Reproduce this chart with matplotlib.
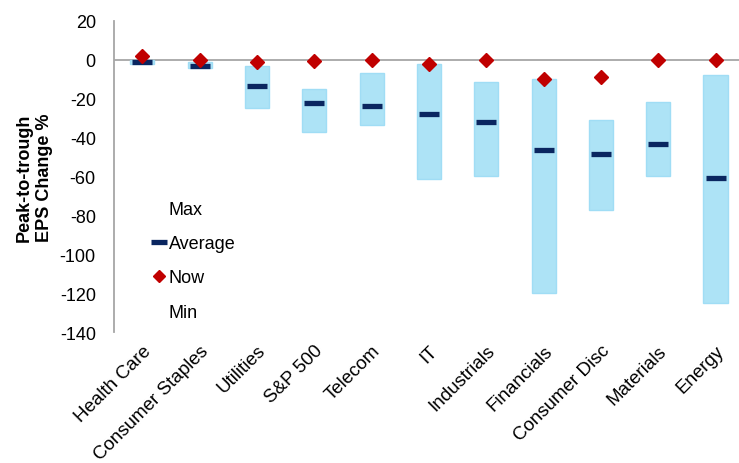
import numpy as np
import matplotlib.pyplot as plt

plt.rcParams['font.family'] = ['Liberation Sans', 'DejaVu Sans']
plt.rcParams['axes.unicode_minus'] = False

# Data
sectors = ['Health Care', 'Consumer Staples', 'Utilities', 'S&P 500', 'Telecom', 'IT',
           'Industrials', 'Financials', 'Consumer Disc', 'Materials', 'Energy']
max_vals = [0, -1, -3, -15, -7, -2, -11.5, -10, -31, -21.5, -8]
min_vals = [-2, -4, -25, -37, -33.5, -61.5, -60, -120, -77, -59.5, -125]
avg_vals = [-1, -3, -13.5, -22, -24, -28, -32, -46.5, -48.5, -43.5, -61]
now_vals = [2, 0, -1, -0.5, 0, -2, 0, -10, -9, 0, 0]

x = np.arange(len(sectors))
max_arr = np.array(max_vals)
min_arr = np.array(min_vals)

fig = plt.figure(figsize=(7.39, 4.64), dpi=100)
ax = fig.add_axes([0.154, 0.282, 0.853, 0.671])

# range boxes between min and max
ax.bar(x, max_arr - min_arr, bottom=min_arr, width=0.42,
       color='#ADE3F6', edgecolor='#A0DDF5', linewidth=1, zorder=2)
ax.axhline(0, color='#A6A6A6', linewidth=1.3, zorder=1)

ax.plot(x, max_vals, linestyle='none', label='Max')
ax.plot(x, avg_vals, linestyle='none', marker='_', markersize=15,
        markeredgewidth=3.8, color='#0A2660', label='Average', zorder=3)
ax.plot(x, now_vals, linestyle='none', marker='D', markersize=7.5,
        color='#C00000', label='Now', zorder=4)
ax.plot(x, min_vals, linestyle='none', label='Min')

ax.set_xlim(-0.5, len(sectors) - 0.5)
ax.set_ylim(-140, 20)
ax.set_yticks(range(-140, 21, 20))
ax.tick_params(axis='y', length=0, pad=13, labelsize=13)
ax.tick_params(axis='x', length=0, pad=7)
ax.set_xticks(x)
ax.set_xticklabels(sectors, rotation=45, ha='right', va='top',
                   rotation_mode='anchor', fontsize=13.5)

for s in ['top', 'right', 'bottom']:
    ax.spines[s].set_visible(False)
ax.spines['left'].set_color('#A6A6A6')
ax.spines['left'].set_linewidth(1.3)

ax.set_ylabel('Peak-to-trough\nEPS Change %', fontsize=13, fontweight='bold',
              labelpad=5)

leg = ax.legend(loc='upper left', bbox_to_anchor=(0.05, 0.444), frameon=False,
                fontsize=13, handlelength=0.7, handletextpad=0.2,
                labelspacing=0.95, borderaxespad=0, markerscale=0.75)

plt.savefig('out.png', dpi=100)
